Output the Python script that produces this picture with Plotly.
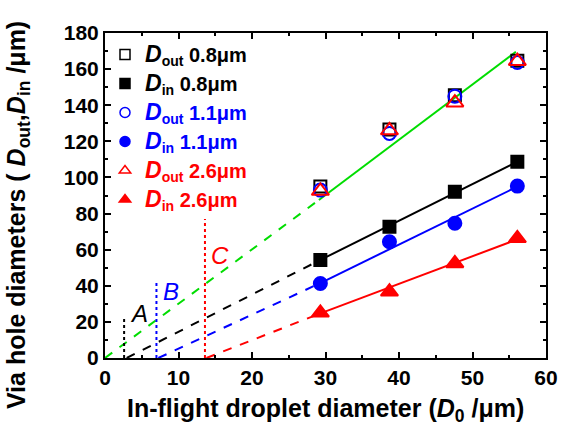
import plotly.graph_objects as go

# ---- data ----
x_droplet = [29.3, 38.7, 47.6, 56.1]
dout_08 = [95.0, 126.6, 145.5, 164.6]
din_08 = [54.3, 72.7, 92.1, 108.7]
dout_11 = [93.0, 124.4, 145.0, 163.7]
din_11 = [41.3, 64.4, 74.6, 95.2]
dout_26 = [92.5, 126.0, 141.4, 164.4]
din_26 = [25.0, 36.7, 52.4, 66.3]

# fitted / extrapolated lines (dashed part, solid part)
green_dash_x = [0.0, 29.1]
green_dash_y = [0.0, 87.5]
green_solid_x = [29.1, 55.9]
green_solid_y = [87.5, 169.6]
black_dash_x = [2.95, 29.3]
black_dash_y = [0.0, 54.3]
black_solid_x = [29.3, 56.1]
black_solid_y = [54.3, 108.7]
blue_dash_x = [7.26, 29.3]
blue_dash_y = [0.0, 41.5]
blue_solid_x = [29.3, 56.1]
blue_solid_y = [41.5, 94.9]
red_dash_x = [13.8, 29.3]
red_dash_y = [0.0, 24.7]
red_solid_x = [29.3, 56.1]
red_solid_y = [24.7, 65.7]

# vertical markers A, B, C
vline_labels = ["A", "B", "C"]
vline_x = [2.6, 7.0, 13.6]
vline_top = [23.0, 42.0, 77.0]
label_x = [4.6, 9.0, 15.6]
label_y = [24.5, 36.6, 57.0]

BLACK = "#000000"
BLUE = "#0000ff"
RED = "#ff0000"
GREEN = "#00dd00"
FONT = "Liberation Sans, Arial"

fig = go.Figure()

def line(xs, ys, color, dash):
    fig.add_trace(go.Scatter(x=xs, y=ys, mode="lines", showlegend=False,
                             line=dict(color=color, width=2, dash=dash),
                             hoverinfo="skip"))

line(green_dash_x, green_dash_y, GREEN, "dash")
line(green_solid_x, green_solid_y, GREEN, "solid")
line(black_dash_x, black_dash_y, BLACK, "dash")
line(black_solid_x, black_solid_y, BLACK, "solid")
line(blue_dash_x, blue_dash_y, BLUE, "dash")
line(blue_solid_x, blue_solid_y, BLUE, "solid")
line(red_dash_x, red_dash_y, RED, "dash")
line(red_solid_x, red_solid_y, RED, "solid")

for c, vx, vt in zip([BLACK, BLUE, RED], vline_x, vline_top):
    line([vx, vx], [0, vt], c, "dot")

D = '<span style="font-size:23px"><i>D</i></span>'
series = [
    (f"{D}<sub>out</sub> 0.8μm", dout_08, "square-open", BLACK, 12),
    (f"{D}<sub>in</sub> 0.8μm", din_08, "square", BLACK, 12),
    (f"{D}<sub>out</sub> 1.1μm", dout_11, "circle-open", BLUE, 13),
    (f"{D}<sub>in</sub> 1.1μm", din_11, "circle", BLUE, 13),
    (f"{D}<sub>out</sub> 2.6μm", dout_26, "triangle-up-open", RED, 15),
    (f"{D}<sub>in</sub> 2.6μm", din_26, "triangle-up", RED, 15),
]
for name, ys, sym, col, sz in series:
    fig.add_trace(go.Scatter(x=x_droplet, y=ys, mode="markers", showlegend=False,
                             marker=dict(symbol=sym, size=sz, color=col,
                                         line=dict(color=col, width=2))))
# legend entries (smaller markers)
for name, ys, sym, col, sz in series:
    fig.add_trace(go.Scatter(x=[None], y=[None], mode="markers",
                             name=f'<span style="color:{col}">{name}</span>',
                             marker=dict(symbol=sym, size=10, color=col,
                                         line=dict(color=col, width=1.5))))

for lab, lx, ly, c in zip(vline_labels, label_x, label_y, [BLACK, BLUE, RED]):
    fig.add_annotation(x=lx, y=ly, text=f"<i>{lab}</i>", showarrow=False,
                       font=dict(size=24, color=c, family=FONT))

# axis titles as annotations for exact placement
fig.add_annotation(xref="paper", yref="paper", x=0.5, y=-0.16,
                   xanchor="center", yanchor="middle", showarrow=False,
                   text="In-flight droplet diameter (<i>D</i><sub>0</sub> /μm)",
                   font=dict(size=25, color="black", weight="bold", family=FONT))
fig.add_annotation(xref="paper", yref="paper", x=-0.197, y=0.44,
                   xanchor="center", yanchor="middle", showarrow=False, textangle=-90,
                   text="Via hole diameters ( <i>D</i><sub>out</sub>,<i>D</i><sub>in</sub> /μm)",
                   font=dict(size=25, color="black", weight="bold", family=FONT))

axis_common = dict(showline=True, linewidth=2, linecolor="black", mirror="allticks",
                   ticks="inside", ticklen=6, tickwidth=2, tickcolor="black",
                   showgrid=False, zeroline=False, automargin=False,
                   tickfont=dict(size=21, color="black", weight="bold", family=FONT))

fig.update_xaxes(range=[0, 60], dtick=10, tick0=0,
                 minor=dict(ticks="inside", ticklen=3, tickwidth=2, dtick=5, tickcolor="black"),
                 **axis_common)
fig.update_yaxes(range=[0, 180], dtick=20, tick0=0,
                 minor=dict(ticks="inside", ticklen=3, tickwidth=2, dtick=10, tickcolor="black"),
                 **axis_common)

fig.update_layout(
    width=563, height=429,
    margin=dict(l=105, r=17, t=33, b=71, autoexpand=False),
    paper_bgcolor="white", plot_bgcolor="white",
    legend=dict(x=0.0, y=0.994, xanchor="left", yanchor="top",
                bgcolor="rgba(0,0,0,0)", tracegroupgap=0,
                font=dict(size=20, color="black", weight="bold", family=FONT)),
)

fig.write_html("out.html", config={"displayModeBar": False},
               post_script="document.body.style.margin='0px';")
